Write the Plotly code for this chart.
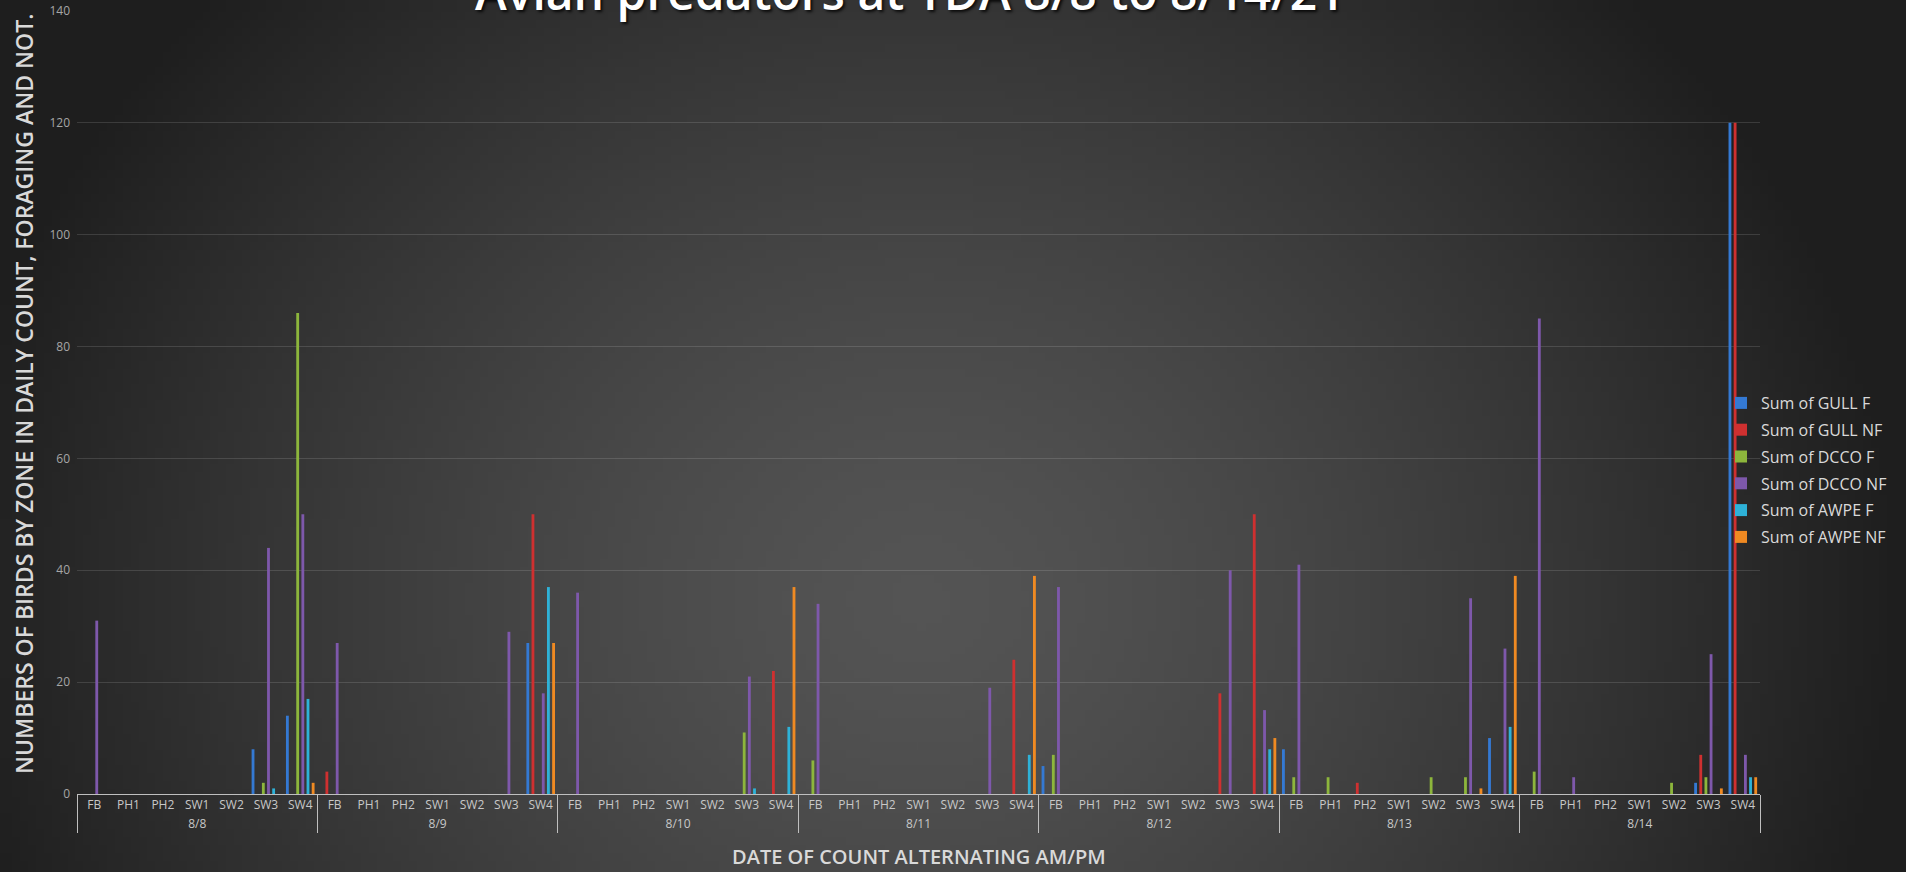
import base64, struct, zlib
import plotly.graph_objects as go

# ---------------- data ----------------
dates = ["8/8", "8/9", "8/10", "8/11", "8/12", "8/13", "8/14"]
zones = ["FB", "PH1", "PH2", "SW1", "SW2", "SW3", "SW4"]

# each row = one date, columns = zones FB..SW4
gull_f = [
    0, 0, 0, 0, 0, 8, 14,
    0, 0, 0, 0, 0, 0, 27,
    0, 0, 0, 0, 0, 0, 0,
    0, 0, 0, 0, 0, 0, 0,
    5, 0, 0, 0, 0, 0, 0,
    8, 0, 0, 0, 0, 0, 10,
    0, 0, 0, 0, 0, 2, 120,
]
gull_nf = [
    0, 0, 0, 0, 0, 0, 0,
    4, 0, 0, 0, 0, 0, 50,
    0, 0, 0, 0, 0, 0, 22,
    0, 0, 0, 0, 0, 0, 24,
    0, 0, 0, 0, 0, 18, 50,
    0, 0, 2, 0, 0, 0, 0,
    0, 0, 0, 0, 0, 7, 120,
]
dcco_f = [
    0, 0, 0, 0, 0, 2, 86,
    0, 0, 0, 0, 0, 0, 0,
    0, 0, 0, 0, 0, 11, 0,
    6, 0, 0, 0, 0, 0, 0,
    7, 0, 0, 0, 0, 0, 0,
    3, 3, 0, 0, 3, 3, 0,
    4, 0, 0, 0, 2, 3, 0,
]
dcco_nf = [
    31, 0, 0, 0, 0, 44, 50,
    27, 0, 0, 0, 0, 29, 18,
    36, 0, 0, 0, 0, 21, 0,
    34, 0, 0, 0, 0, 19, 0,
    37, 0, 0, 0, 0, 40, 15,
    41, 0, 0, 0, 0, 35, 26,
    85, 3, 0, 0, 0, 25, 7,
]
awpe_f = [
    0, 0, 0, 0, 0, 1, 17,
    0, 0, 0, 0, 0, 0, 37,
    0, 0, 0, 0, 0, 1, 12,
    0, 0, 0, 0, 0, 0, 7,
    0, 0, 0, 0, 0, 0, 8,
    0, 0, 0, 0, 0, 0, 12,
    0, 0, 0, 0, 0, 0, 3,
]
awpe_nf = [
    0, 0, 0, 0, 0, 0, 2,
    0, 0, 0, 0, 0, 0, 27,
    0, 0, 0, 0, 0, 0, 37,
    0, 0, 0, 0, 0, 0, 39,
    0, 0, 0, 0, 0, 0, 10,
    0, 0, 0, 0, 0, 1, 39,
    0, 0, 0, 0, 0, 1, 3,
]

series_names = ["Sum of GULL F", "Sum of GULL NF", "Sum of DCCO F",
                "Sum of DCCO NF", "Sum of AWPE F", "Sum of AWPE NF"]
series_values = [gull_f, gull_nf, dcco_f, dcco_nf, awpe_f, awpe_nf]
series_colors = ["#3479d3", "#cf3030", "#8db63c", "#7e58ab", "#2eb2d8", "#f08a22"]

# ---------------- background (radial gradient PNG) ----------------
W, H = 1906, 872
def make_png(w, h, pixel):
    raw = bytearray()
    for j in range(h):
        raw.append(0)
        for i in range(w):
            raw.extend(pixel(i, j))
    def chunk(t, d):
        c = struct.pack(">I", len(d)) + t + d
        return c + struct.pack(">I", zlib.crc32(t + d) & 0xFFFFFFFF)
    return (b"\x89PNG\r\n\x1a\n" + chunk(b"IHDR", struct.pack(">IIBBBBB", w, h, 8, 2, 0, 0, 0))
            + chunk(b"IDAT", zlib.compress(bytes(raw), 9)) + chunk(b"IEND", b""))

gw, gh = 240, 110
cx, cy, rx, ry = 920, 600, 980, 880
def px(i, j):
    x = (i + 0.5) / gw * W
    y = (j + 0.5) / gh * H
    t = min(1.0, ((x - cx) / rx) ** 2 + ((y - cy) / ry) ** 2) ** 0.5
    v = int(round(84 - (84 - 30) * t ** 1.4))
    return (v, v, v)
bg_uri = "data:image/png;base64," + base64.b64encode(make_png(gw, gh, px)).decode()

# ---------------- figure ----------------
ml, mr, mt, mb = 77, 146, 11, 78
pw, ph = W - ml - mr, H - mt - mb

xcat = [[d for d in dates for _ in zones], [z for _ in dates for z in zones]]

fig = go.Figure()
for name, vals, col in zip(series_names, series_values, series_colors):
    fig.add_trace(go.Bar(
        x=xcat, y=vals, name=name, legendgroup=name,
        marker=dict(color=col, line=dict(width=0)),
    ))

fig.update_layout(
    width=W, height=H,
    margin=dict(l=ml, r=mr, t=mt, b=mb, autoexpand=False),
    paper_bgcolor="#2a2a2a",
    plot_bgcolor="rgba(0,0,0,0)",
    barmode="group", bargap=0.1, bargroupgap=0.45,
    font=dict(family="Open Sans, sans-serif", color="#d9d9d9"),
    showlegend=True,
    legend=dict(
        x=(1721 - ml) / pw, xanchor="left", y=(794 - 470) / ph, yanchor="middle",
        bgcolor="rgba(0,0,0,0)", font=dict(size=16, color="#d9d9d9"),
        traceorder="grouped", tracegroupgap=3, itemwidth=30,
    ),
    images=[dict(source=bg_uri, xref="paper", yref="paper",
                 x=-ml / pw, y=1 + mt / ph, sizex=W / pw, sizey=H / ph,
                 xanchor="left", yanchor="top", sizing="stretch", layer="below")],
    xaxis=dict(
        type="multicategory", showgrid=False, zeroline=False,
        showline=True, linecolor="#bfbfbf", linewidth=1,
        ticks="", tickfont=dict(size=12, color="#c8c8c8"),
        showdividers=True, dividercolor="#bfbfbf", dividerwidth=1,
        automargin=False,
    ),
    yaxis=dict(
        range=[0, 140], dtick=20, showgrid=True, gridcolor="rgba(255,255,255,0.13)",
        gridwidth=1, zeroline=False, showline=False, ticks="",
        tickfont=dict(size=12, color="#a6a6a6"), automargin=False,
        ticklabelstandoff=6,
    ),
    annotations=[
        dict(text="Avian predators at TDA 8/8 to 8/14/21", xref="paper", yref="paper",
             x=(910 - ml) / pw, y=1 - (26 - mt) / ph, xanchor="center", yanchor="bottom",
             showarrow=False,
             font=dict(size=48, color="#ffffff", weight=600,
                       shadow="2px 2px 3px rgba(0,0,0,0.8)")),
        dict(text="DATE OF COUNT ALTERNATING AM/PM", xref="paper", yref="paper",
             x=(919 - ml) / pw, y=-(856 - 794) / ph, xanchor="center", yanchor="middle",
             showarrow=False, font=dict(size=20, color="#d9d9d9", weight=600)),
        dict(text="NUMBERS OF BIRDS BY ZONE IN DAILY COUNT, FORAGING AND NOT.",
             xref="paper", yref="paper", x=-(ml - 24) / pw, y=(794 - 394) / ph,
             xanchor="center", yanchor="middle", textangle=-90,
             showarrow=False,
             font=dict(family="Open Sans, sans-serif",
                       size=23, color="#d9d9d9", weight=600)),
    ],
)

fig.write_html("out.html", config={"displayModeBar": False},
               post_script="document.body.style.margin='0';")
